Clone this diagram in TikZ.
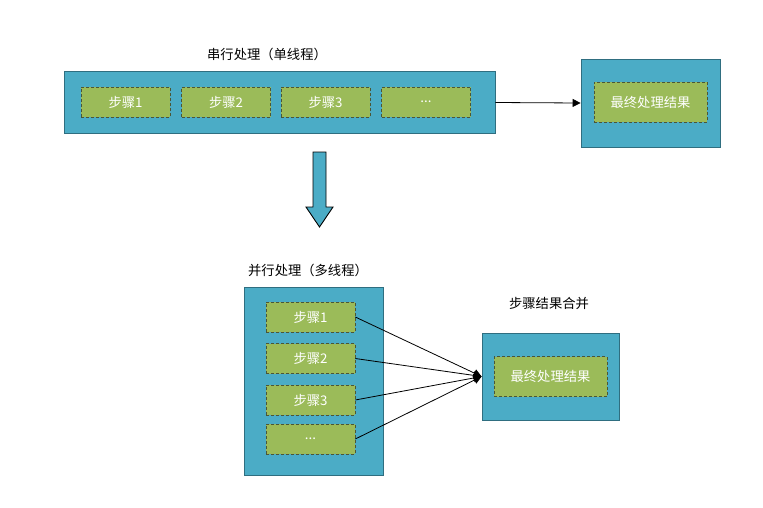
\documentclass[tikz,border=0pt]{standalone}
\usepackage{fontspec}
\setmainfont{Noto Sans CJK SC}
\usetikzlibrary{arrows.meta}
\definecolor{boxblue}{HTML}{4BACC6}
\definecolor{boxedge}{HTML}{2F6E80}
\definecolor{stepgreen}{HTML}{9BBB59}
\definecolor{stepedge}{HTML}{4B5636}
\tikzset{
  >={Triangle[length=8pt,width=8pt]},
  every node/.style={font=\fontsize{13.3}{16}\selectfont, inner sep=0pt},
  outer/.style={draw=boxedge, fill=boxblue, line width=0.8pt},
  stepbox/.style={
    draw=stepedge,
    fill=stepgreen,
    densely dashed,
    line width=0.6pt,
    text=white,
    minimum width=89pt,
    minimum height=30pt
  },
  resultbox/.style={stepbox, minimum width=113pt, minimum height=40pt},
  link/.style={->, line width=0.8pt, draw=black},
  caption/.style={text=black}
}
\begin{document}
\begin{tikzpicture}[x=1pt, y=-1pt]
  \useasboundingbox (0,0) rectangle (763,507);

  % Serial processing
  \node[caption] (serialtitle) at (267,54) {串行处理（单线程）};
  \node[outer, minimum width=431pt, minimum height=62pt] (serial) at (279.5,102.5) {};
  \node[stepbox] (s1) at (125.5,102) {步骤1};
  \node[stepbox] (s2) at (226,102) {步骤2};
  \node[stepbox] (s3) at (325.5,102) {步骤3};
  \node[stepbox] (s4) at (426,102) {...};

  \node[outer, minimum width=139pt, minimum height=88pt] (serialres) at (650.5,103) {};
  \node[resultbox] (serialfinal) at (650.5,102) {最终处理结果};
  \draw[link] (serial.east) -- (serialres.west);

  % Down arrow
  \draw[fill=boxblue, draw=black, line width=0.9pt]
    (313,152) -- (326,152) -- (326,207) -- (333,207) -- (319.5,227)
    -- (306,207) -- (313,207) -- cycle;

  % Parallel processing
  \node[caption] (paralleltitle) at (308,270) {并行处理（多线程）};
  \node[outer, minimum width=139pt, minimum height=188pt] (parallel) at (313.5,381) {};
  \node[stepbox] (p1) at (310.5,317) {步骤1};
  \node[stepbox] (p2) at (310.5,358.5) {步骤2};
  \node[stepbox] (p3) at (310.5,400) {步骤3};
  \node[stepbox] (p4) at (310.5,439) {...};

  \node[caption] (mergetitle) at (549,303) {步骤结果合并};
  \node[outer, minimum width=137pt, minimum height=87pt] (parres) at (550.5,376.5) {};
  \node[resultbox] (parfinal) at (550.5,376.5) {最终处理结果};
  \foreach \i in {1,...,4}
    \draw[link] (p\i.east) -- (parres.west);
\end{tikzpicture}
\end{document}
